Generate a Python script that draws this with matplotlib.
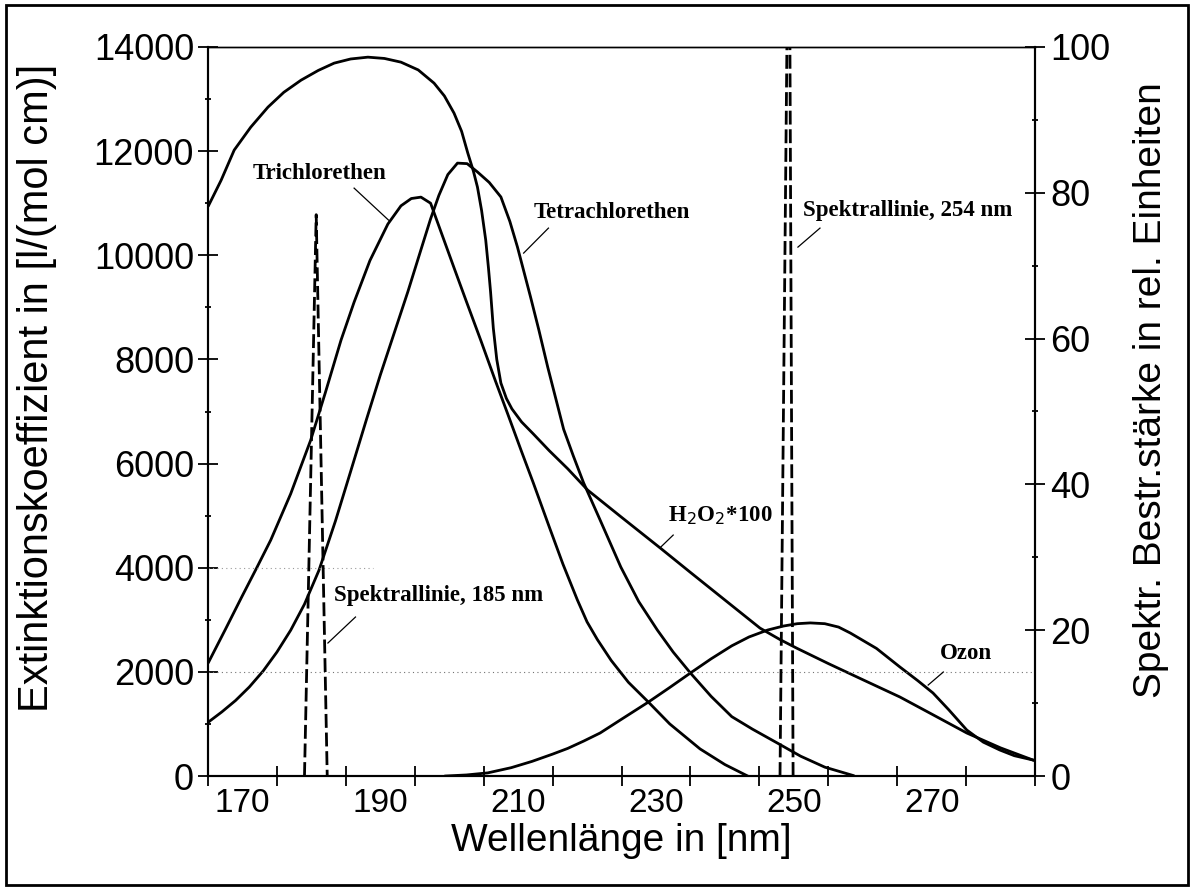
import matplotlib
matplotlib.use("Agg")
import matplotlib.pyplot as plt
from matplotlib.patches import Rectangle
from matplotlib.ticker import FixedLocator, MultipleLocator

# wavelengths (nm) and extinction coefficients
h2o2_x = [165.1, 166.9, 168.8, 171.2, 173.7, 176.0, 178.5, 181.0, 183.3, 185.7,
          188.2, 190.6, 193.0, 195.5, 197.8, 199.3, 200.7, 201.8, 202.7, 203.5,
          204.1, 204.7, 205.3, 205.7, 206.0, 206.4, 206.9, 207.5, 208.3, 209.1,
          210.5, 212.2, 214.5, 217.2, 220.1, 224.9, 230.7, 235.0, 240.0, 245.1,
          248.0, 250.5, 255.0, 260.0, 265.4, 270.0, 275.1, 280.0, 284.7]
h2o2_y = [10960, 11440, 12020, 12460, 12845, 13130, 13363, 13550, 13690, 13770,
          13805, 13780, 13709, 13560, 13306, 13060, 12730, 12380, 11962, 11620,
          11309, 10860, 10291, 9750, 9300, 8600, 8000, 7546, 7250, 7050,
          6800, 6570, 6250, 5900, 5490, 4980, 4370, 3910, 3380, 2840,
          2620, 2450, 2160, 1850, 1517, 1190, 826, 540, 307]

tri_x = [165.1, 167.5, 169.9, 172.0, 174.1, 177.0, 179.9, 182.0, 184.3, 186.2,
         188.5, 191.1, 193.0, 194.5, 195.9, 197.3, 199.0, 200.7, 202.5, 204.6,
         206.7, 208.5, 210.5, 212.2, 214.5, 216.5, 218.6, 220.0, 221.5, 223.5,
         226.0, 228.9, 232.0, 236.4, 240.0, 243.3]
tri_y = [2190, 2810, 3440, 3980, 4530, 5420, 6450, 7350, 8370, 9100,
         9900, 10600, 10950, 11090, 11117, 11000, 10380, 9760, 9110, 8360,
         7590, 6950, 6230, 5630, 4790, 4070, 3380, 2960, 2620, 2220,
         1800, 1420, 1000, 520, 220, 0]

tetra_x = [165.1, 167.0, 169.0, 171.0, 173.0, 175.0, 177.0, 179.0, 181.1, 183.5,
           185.7, 188.0, 190.0, 192.0, 194.0, 196.0, 197.3, 198.5, 199.8, 201.2,
           202.6, 204.1, 205.8, 207.5, 208.8, 209.9, 211.8, 213.0, 214.3, 215.5,
           216.6, 218.0, 219.5, 221.9, 224.9, 227.5, 230.2, 232.5, 235.0, 238.0,
           241.0, 244.0, 247.6, 251.0, 254.5, 258.6]
tetra_y = [1040, 1230, 1450, 1710, 2016, 2380, 2800, 3300, 3950, 4900,
           5850, 6850, 7700, 8500, 9300, 10150, 10700, 11150, 11550, 11770,
           11760, 11600, 11400, 11120, 10650, 10160, 9200, 8570, 7850, 7230,
           6660, 6150, 5630, 4915, 4013, 3350, 2803, 2380, 1978, 1530,
           1140, 900, 634, 380, 170, 10]

ozon_x = [199.5, 202.5, 205.6, 209.0, 212.0, 215.0, 217.2, 219.5, 221.9, 225.0,
          228.9, 232.0, 235.0, 238.0, 241.0, 243.5, 246.2, 248.5, 250.5, 252.4,
          254.5, 256.5, 258.2, 262.0, 265.4, 268.0, 270.2, 272.5, 275.1, 277.5,
          279.9, 282.0, 284.7]
ozon_y = [0, 20, 60, 160, 280, 420, 530, 670, 826, 1090,
          1420, 1700, 1978, 2250, 2500, 2670, 2803, 2880, 2925, 2940,
          2925, 2860, 2746, 2450, 2093, 1830, 1594, 1270, 883, 650,
          499, 390, 307]

# spectral lines, relative intensity (right axis)
line185_x = [179.0, 180.7, 182.3]
line185_y = [0, 77, 0]
line254_x = [248.0, 249.3, 249.9]
line254_y = [0, 130, 0]

xtick_labels = [170, 190, 210, 230, 250, 270]

labels = [
    ("Trichlorethen", 171.5, 11578, (186.2, 11290), (191.2, 10675)),
    ("Tetrachlorethen", 212.2, 10829, (214.4, 10522), (210.8, 10042)),
    ("Spektrallinie, 254 nm", 251.4, 10867, (253.8, 10522), (250.6, 10157)),
    ("Spektrallinie, 185 nm", 183.3, 3475, (186.4, 3053), (182.4, 2554)),
    ("H$_2$O$_2$*100", 231.7, 5011, (232.5, 4627), (230.7, 4397)),
    ("Ozon", 271.2, 2362, (271.7, 1997), (269.5, 1747)),
]

plt.rcParams["font.family"] = ["Liberation Sans", "DejaVu Sans"]

W, H = 1194, 890
fig = plt.figure(figsize=(W / 100, H / 100), dpi=100)
ax = fig.add_axes([208 / W, 1 - 776 / H, (1035 - 208) / W, (776 - 47) / H])
ax2 = ax.twinx()

for xs, ys in [(h2o2_x, h2o2_y), (tri_x, tri_y), (tetra_x, tetra_y), (ozon_x, ozon_y)]:
    ax.plot(xs, ys, color="black", lw=2.0, solid_joinstyle="round")

for xs, ys in [(line185_x, line185_y), (line254_x, line254_y)]:
    ax2.plot(xs, ys, color="black", lw=2.0, linestyle=(0, (5, 1.7)))

ax.axhline(2000, color="0.45", lw=0.8, linestyle=(0, (1, 3)))
ax.axhline(4000, xmax=0.2, color="0.6", lw=0.8, linestyle=(0, (1, 3)))

serif = ["Liberation Serif", "DejaVu Serif"]
for text, tx, ty, p0, p1 in labels:
    ax.text(tx, ty, text, family=serif, fontweight="bold", fontsize=16.5,
            ha="left", va="center")
    ax.plot([p0[0], p1[0]], [p0[1], p1[1]], color="black", lw=0.9)

ax.set_xlim(165, 285)
ax.set_ylim(0, 14000)
ax2.set_ylim(0, 100)

# tick marks every 10 nm from 165, labels in between (as on the scan)
ax.xaxis.set_major_locator(FixedLocator(xtick_labels))
ax.set_xticklabels([str(v) for v in xtick_labels])
ax.xaxis.set_minor_locator(FixedLocator(list(range(165, 286, 10))))
ax.tick_params(axis="x", which="major", length=0, pad=9, labelsize=24)
ax.tick_params(axis="x", which="minor", direction="inout", length=14, width=1.3)

ax.yaxis.set_major_locator(MultipleLocator(2000))
ax.yaxis.set_minor_locator(MultipleLocator(1000))
ax.tick_params(axis="y", which="major", direction="inout", length=14, width=1.3,
               labelsize=26, pad=3)
ax.tick_params(axis="y", which="minor", direction="inout", length=5, width=1.3)

ax2.yaxis.set_major_locator(MultipleLocator(20))
ax2.yaxis.set_minor_locator(MultipleLocator(10))
ax2.tick_params(axis="y", which="major", direction="inout", length=14, width=1.3,
                labelsize=26, pad=4)
ax2.tick_params(axis="y", which="minor", direction="inout", length=5, width=1.3)

for a in (ax, ax2):
    for side in ("left", "right", "bottom"):
        a.spines[side].set_linewidth(1.5)
    a.spines["top"].set_linewidth(1.0)

ax.set_xlabel("Wellenlänge in [nm]", fontsize=28)
ax.xaxis.set_label_coords(0.5, -0.064)
ax.xaxis.label.set_va("top")
ax.set_ylabel("Extinktionskoeffizient in [l/(mol cm)]", fontsize=30)
ax.yaxis.set_label_coords(-0.183, 0.532)
ax2.set_ylabel("Spektr. Bestr.stärke in rel. Einheiten", fontsize=28)
ax2.yaxis.set_label_coords(1.118, 0.529)

fig.patches.append(Rectangle((0.005, 0.006), 0.99, 0.988, transform=fig.transFigure,
                             fill=False, lw=2, ec="black"))

fig.savefig("out.png", dpi=100)
